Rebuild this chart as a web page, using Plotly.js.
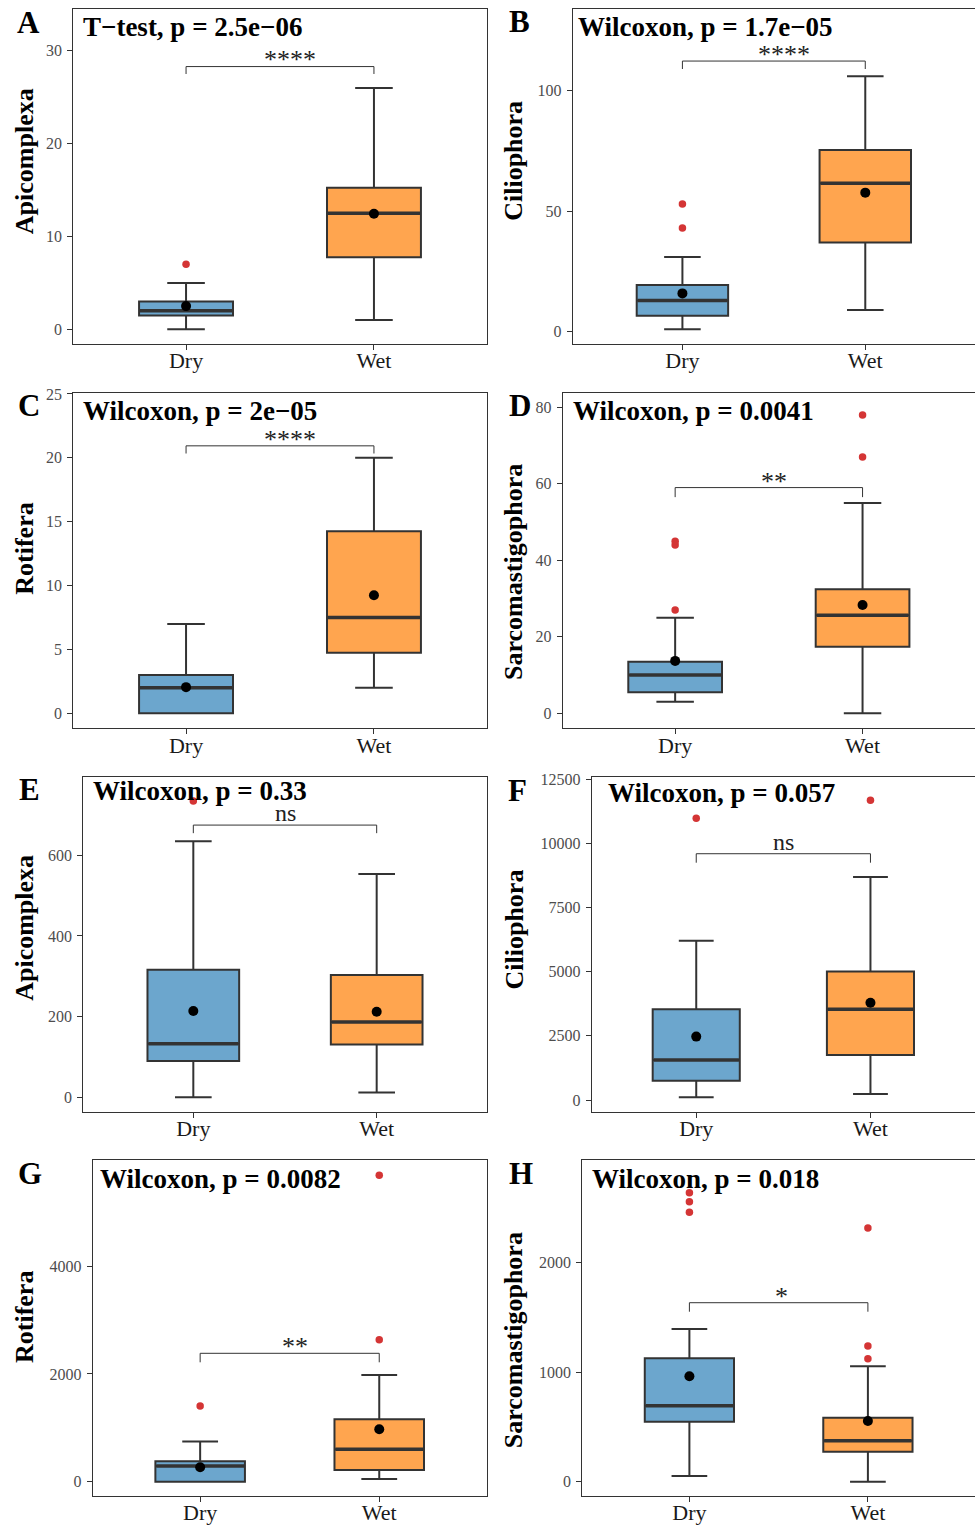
<!DOCTYPE html>
<html>
<head>
<meta charset="utf-8">
<script src="https://cdn.plot.ly/plotly-3.0.1.min.js"></script>
<style>html,body{margin:0;padding:0;background:#fff;}#chart{width:975px;height:1525px;}</style>
</head>
<body>
<div id="chart"></div>
<script>
// ---------------- DATA ----------------
const groups = ['Dry', 'Wet'];
const panelLetters = ['A', 'B', 'C', 'D', 'E', 'F', 'G', 'H'];
const taxa = ['Apicomplexa', 'Ciliophora', 'Rotifera', 'Sarcomastigophora',
              'Apicomplexa', 'Ciliophora', 'Rotifera', 'Sarcomastigophora'];
const testLabels = ['T\u2212test, p = 2.5e\u221206', 'Wilcoxon, p = 1.7e\u221205',
                    'Wilcoxon, p = 2e\u221205', 'Wilcoxon, p = 0.0041',
                    'Wilcoxon, p = 0.33', 'Wilcoxon, p = 0.057',
                    'Wilcoxon, p = 0.0082', 'Wilcoxon, p = 0.018'];
const sigLabels = ['****', '****', '****', '**', 'ns', 'ns', '**', '*'];

// Dry season box statistics
const dryLower  = [0,   1,    0,   3,    0,   105,   0,    52];
const dryQ1     = [1.5, 6.6,  0,   5.5,  90,  750,   0,    547];
const dryMedian = [2,   13,   2,   10,   133, 1560,  290,  693];
const dryQ3     = [3,   19.4, 3,   13.5, 316, 3530,  380,  1125];
const dryUpper  = [5,   31,   7,   25,   635, 6200,  745,  1392];
const dryMean   = [2.5, 15.9, 2.05, 13.7, 214, 2470, 267,  961];
const dryOutliers = [[7], [43, 53], [], [27, 44, 45], [735], [10970], [1404], [2456, 2553, 2635]];

// Wet season box statistics
const wetLower  = [1,     9,    2,    0,    12,  235,  50,   0];
const wetQ1     = [7.75,  37,   4.75, 17.4, 131, 1750, 217,  274];
const wetMedian = [12.5,  61.6, 7.5,  25.6, 187, 3530, 601,  374];
const wetQ3     = [15.25, 75.4, 14.25, 32.4, 303, 5000, 1157, 583];
const wetUpper  = [26,    106,  20,   55,   554, 8680, 1979, 1052];
const wetMean   = [12.45, 57.7, 9.25, 28.3, 212, 3790, 972,  553];
const wetOutliers = [[], [], [], [67, 78], [], [11670], [2634, 5684], [1121, 1237, 2313]];

// Significance bracket levels (top and leg ends) and label level
const bracketTop    = [28.3, 112.3, 20.94, 59,   675, 9591,  2382, 1632];
const bracketBottom = [27.5, 109,   20.34, 56.5, 655, 9241,  2215, 1550];
const sigLabelY     = [29.6, 116.9, 21.8,  61.9, 705, 10059, 2597, 1732];

// Axis ticks
const yTicks = [[0, 10, 20, 30], [0, 50, 100], [0, 5, 10, 15, 20, 25], [0, 20, 40, 60, 80],
                [0, 200, 400, 600], [0, 2500, 5000, 7500, 10000, 12500], [0, 2000, 4000], [0, 1000, 2000]];

// ---------------- LAYOUT (pixels) ----------------
const W = 975, H = 1525;
const yRanges = [[-1.58, 34.5], [-5.1, 133.9], [-1.17, 25.1], [-3.92, 83.8],
                 [-35.7, 795], [-455, 12590], [-265, 5968], [-130, 2933]];
const xPx = [[73.3, 486.7], [572.7, 975], [73.3, 486.7], [562.7, 975],
             [83.3, 486.7], [591.7, 975], [92.7, 486.7], [582.3, 975]];
const yPx = [[9, 344], [9, 344], [392.7, 728.3], [392.7, 728.3],
             [776.7, 1111.7], [776.7, 1111.7], [1160, 1496], [1160, 1496]];
const letterPos = [[15, 22.5], [507.3, 21.5], [15.7, 405.8], [507.3, 405.5],
                   [17.3, 789.2], [505.7, 790], [15.7, 1173.8], [507.3, 1173.8]];
const titlePos = [[81, 27], [576.3, 27], [81.3, 410.5], [570.7, 411.3],
                  [90.7, 790.5], [606.3, 793.3], [98, 1178.8], [589.7, 1178.8]];
const ytitlePos = [[24.5, 161.7], [513.5, 161.3], [24.5, 549.2], [513.5, 572.5],
                   [24.5, 928.3], [513.5, 930], [24.5, 1317.5], [513.5, 1340.8]];

const FONT = 'Liberation Serif, Times New Roman, serif';
const DRY_FILL = '#6CA6CD', WET_FILL = '#FFA54F';
const OUT_COLOR = '#D43535';
const DARK = '#333333';
const BOX_W = 0.5;

const px2x = v => v / W;
const px2y = v => 1 - v / H;

const traces = [];
const annotations = [];
const layout = {
  width: W, height: H,
  margin: {l: 0, r: 0, t: 0, b: 0},
  paper_bgcolor: '#ffffff', plot_bgcolor: '#ffffff',
  showlegend: false,
  font: {family: FONT, color: DARK},
  annotations: annotations
};

for (let i = 0; i < 8; i++) {
  const n = i === 0 ? '' : String(i + 1);
  const xa = 'x' + n, ya = 'y' + n;

  layout['xaxis' + n] = {
    domain: [px2x(xPx[i][0]), px2x(xPx[i][1])],
    range: [-0.6, 1.6], anchor: ya,
    tickmode: 'array', tickvals: [0, 1], ticktext: groups,
    showline: true, mirror: true, linecolor: DARK, linewidth: 1,
    ticks: 'outside', ticklen: 5, tickcolor: DARK, tickwidth: 1,
    ticklabelstandoff: -8,
    showgrid: false, zeroline: false, fixedrange: true,
    tickfont: {family: FONT, size: 22, color: '#1a1a1a'}
  };
  layout['yaxis' + n] = {
    domain: [px2y(yPx[i][1]), px2y(yPx[i][0])],
    range: yRanges[i], anchor: xa,
    tickmode: 'array', tickvals: yTicks[i], ticktext: yTicks[i].map(String),
    showline: true, mirror: true, linecolor: DARK, linewidth: 1,
    ticks: 'outside', ticklen: 5, tickcolor: DARK, tickwidth: 1,
    ticklabelstandoff: 2,
    showgrid: false, zeroline: false, fixedrange: true,
    tickfont: {family: FONT, size: 16, color: '#4D4D4D'}
  };

  const stats = [
    {lo: dryLower[i], q1: dryQ1[i], med: dryMedian[i], q3: dryQ3[i], hi: dryUpper[i], mean: dryMean[i], out: dryOutliers[i], fill: DRY_FILL},
    {lo: wetLower[i], q1: wetQ1[i], med: wetMedian[i], q3: wetQ3[i], hi: wetUpper[i], mean: wetMean[i], out: wetOutliers[i], fill: WET_FILL}
  ];

  stats.forEach((s, g) => {
    traces.push({
      type: 'box', xaxis: xa, yaxis: ya,
      x: [g], q1: [s.q1], median: [s.med], q3: [s.q3],
      lowerfence: [s.lo], upperfence: [s.hi],
      boxpoints: false, width: BOX_W, whiskerwidth: 0.4,
      fillcolor: s.fill, line: {color: DARK, width: 2},
      hoverinfo: 'skip'
    });
    // thicker median bar
    traces.push({
      type: 'scatter', mode: 'lines', xaxis: xa, yaxis: ya,
      x: [g - BOX_W / 2 + 0.005, g + BOX_W / 2 - 0.005], y: [s.med, s.med],
      line: {color: DARK, width: 3.5}, hoverinfo: 'skip'
    });
  });

  // significance bracket
  traces.push({
    type: 'scatter', mode: 'lines', xaxis: xa, yaxis: ya,
    x: [0, 0, 1, 1], y: [bracketBottom[i], bracketTop[i], bracketTop[i], bracketBottom[i]],
    line: {color: DARK, width: 1}, hoverinfo: 'skip'
  });

  // outliers
  stats.forEach((s, g) => {
    if (s.out.length) {
      traces.push({
        type: 'scatter', mode: 'markers', xaxis: xa, yaxis: ya,
        x: s.out.map(() => g), y: s.out,
        marker: {color: OUT_COLOR, size: 7.5, line: {width: 0}}, hoverinfo: 'skip'
      });
    }
  });

  // means
  traces.push({
    type: 'scatter', mode: 'markers', xaxis: xa, yaxis: ya,
    x: [0, 1], y: [stats[0].mean, stats[1].mean],
    marker: {color: '#000000', size: 10, line: {width: 0}}, hoverinfo: 'skip'
  });

  // significance label
  const nStars = (sigLabels[i].match(/\*/g) || []).length;
  const isStar = nStars > 0;
  annotations.push({
    xref: xa, yref: ya, x: 0.5, y: sigLabelY[i],
    text: sigLabels[i], showarrow: false,
    xanchor: 'center', yanchor: 'middle',
    yshift: isStar ? -5 : 0, xshift: 2.5 * nStars,
    font: {family: FONT, size: isStar ? 26 : 24, color: '#222222'}
  });

  // panel letter
  annotations.push({
    xref: 'paper', yref: 'paper', x: px2x(letterPos[i][0]), y: px2y(letterPos[i][1]),
    text: '<b>' + panelLetters[i] + '</b>', showarrow: false,
    xanchor: 'left', yanchor: 'middle',
    font: {family: FONT, size: 31, color: '#000000'}
  });

  // test label
  annotations.push({
    xref: 'paper', yref: 'paper', x: px2x(titlePos[i][0]), y: px2y(titlePos[i][1]),
    text: '<b>' + testLabels[i] + '</b>', showarrow: false,
    xanchor: 'left', yanchor: 'middle',
    font: {family: FONT, size: 27, color: '#000000'}
  });

  // y axis title
  annotations.push({
    xref: 'paper', yref: 'paper', x: px2x(ytitlePos[i][0]), y: px2y(ytitlePos[i][1]),
    text: '<b>' + taxa[i] + '</b>', showarrow: false, textangle: -90,
    xanchor: 'center', yanchor: 'middle',
    font: {family: FONT, size: 26, color: '#000000'}
  });
}

Plotly.newPlot('chart', traces, layout, {staticPlot: true, displayModeBar: false});
</script>
</body>
</html>
